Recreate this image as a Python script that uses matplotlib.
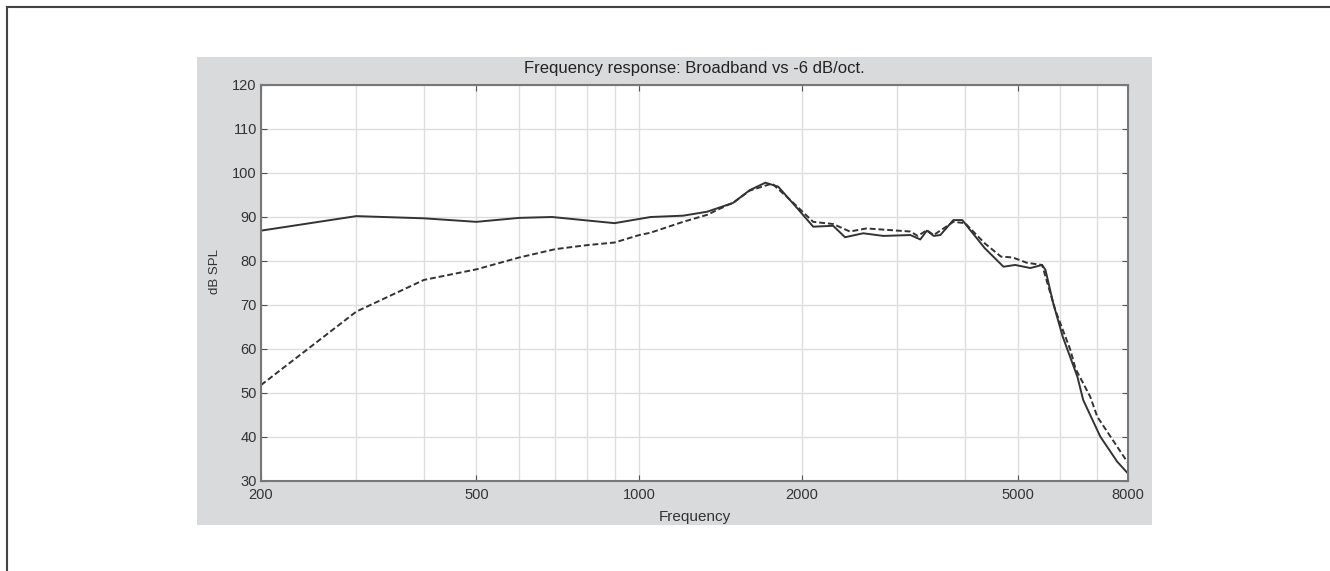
import matplotlib.pyplot as plt
from matplotlib.patches import Rectangle
from matplotlib.lines import Line2D

plt.rcParams['font.family'] = ['Liberation Sans', 'DejaVu Sans']

# broadband response (solid)
freq_bb = [200, 300, 400, 500, 600, 690, 900, 1050, 1205, 1335, 1490, 1600, 1710,
           1806, 1958, 2096, 2282, 2400, 2593, 2825, 3170, 3306, 3400, 3500, 3600,
           3805, 3953, 4090, 4350, 4710, 4950, 5280, 5550, 5630, 5820, 6060, 6450,
           6612, 7110, 7640, 8000]
spl_bb = [86.9, 90.2, 89.7, 88.9, 89.8, 90.0, 88.6, 90.0, 90.3, 91.2, 93.2, 96.1, 97.8,
          96.9, 92.0, 87.8, 88.0, 85.4, 86.3, 85.7, 85.9, 84.9, 86.9, 85.7, 85.9,
          89.3, 89.3, 87.0, 82.9, 78.7, 79.1, 78.4, 79.1, 78.0, 70.4, 62.8, 53.7,
          48.4, 40.1, 34.4, 31.7]

# -6 dB/oct. filtered response (dashed)
freq_6db = [200, 300, 400, 500, 600, 700, 800, 900, 1000, 1047, 1205, 1335, 1455, 1490,
            1600, 1760, 1900, 2096, 2282, 2450, 2630, 3170, 3270, 3400, 3500, 3805,
            4000, 4350, 4660, 4900, 5200, 5550, 5870, 6260, 6400, 6810, 7020, 7640, 8000]
spl_6db = [51.8, 68.5, 75.7, 78.1, 80.8, 82.7, 83.6, 84.2, 85.9, 86.4, 88.9, 90.5, 92.7, 93.2,
           96.0, 97.6, 93.9, 88.9, 88.4, 86.7, 87.4, 86.7, 85.7, 87.0, 85.9, 88.9,
           88.6, 84.0, 81.0, 80.8, 79.6, 79.1, 68.9, 59.8, 55.5, 49.2, 44.6, 37.8, 34.1]

xtick_labels = [200, 500, 1000, 2000, 5000, 8000]
xgrid = [300, 400, 600, 700, 800, 900, 3000, 4000, 6000, 7000]
yticks = list(range(30, 121, 10))

W, H = 1330, 571
fig = plt.figure(figsize=(W / 100, H / 100), dpi=100)

# page frame (top and left edges) and grey figure panel
fig.add_artist(Line2D([7 / W, 7 / W], [0, 1 - 7 / H], color='#444444', lw=1.5))
fig.add_artist(Line2D([7 / W, 1], [1 - 7 / H, 1 - 7 / H], color='#444444', lw=1.5))
fig.add_artist(Rectangle((197 / W, 1 - 525 / H), (1152 - 197) / W, (525 - 57) / H,
                         facecolor='#d9dadc', edgecolor='none', zorder=0))

ax = fig.add_axes([261 / W, 1 - 481 / H, 867 / W, 396 / H])
ax.plot(freq_bb, spl_bb, color='#333333', lw=1.4)
ax.plot(freq_6db, spl_6db, color='#333333', lw=1.4, ls=(0, (3, 1.5)))

ax.set_xscale('log')
ax.set_xlim(200, 8000)
ax.set_ylim(30, 120)
ax.set_xticks(xtick_labels)
ax.set_xticklabels([str(v) for v in xtick_labels])
ax.set_xticks(xgrid, minor=True)
ax.set_yticks(yticks)
ax.grid(True, which='both', color='#dedede', lw=1)
ax.set_axisbelow(True)
ax.tick_params(which='major', direction='in', length=4, top=True, right=True,
               labelsize=10.5, colors='#555555', labelcolor='#333333')
ax.tick_params(axis='x', pad=5)
ax.tick_params(axis='y', pad=3)
ax.tick_params(which='minor', length=0)
for s in ax.spines.values():
    s.set_color('#777777')
    s.set_linewidth(1.5)

ax.set_title('Frequency response: Broadband vs -6 dB/oct.', fontsize=12, color='#222222', pad=9)
ax.set_xlabel('Frequency', fontsize=11, color='#333333', labelpad=6)
ax.set_ylabel('dB SPL', fontsize=9.5, color='#333333')
ax.yaxis.set_label_coords(-0.046, 0.53)

fig.savefig('out.png', dpi=100)
